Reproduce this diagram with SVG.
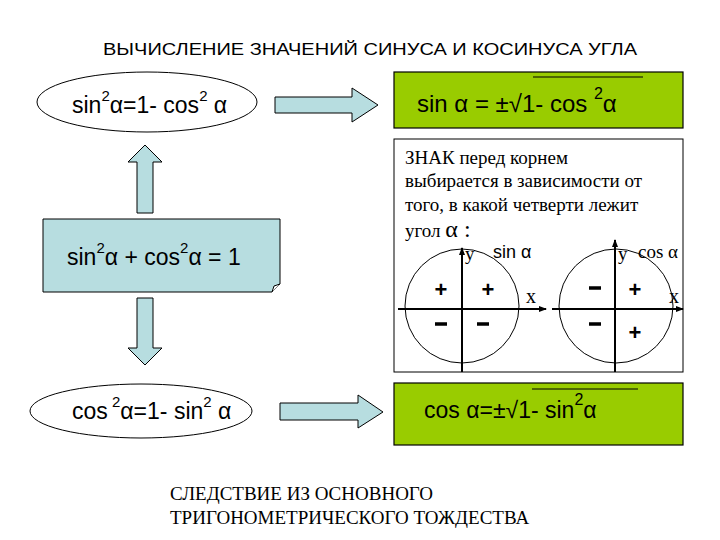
<svg xmlns="http://www.w3.org/2000/svg" width="720" height="540" viewBox="0 0 720 540" xml:space="preserve">
<style>
.s{font-family:"Liberation Sans",Arial,sans-serif;fill:#000}
.t{font-family:"Liberation Serif","Times New Roman",serif;fill:#000}
.blue{fill:#b7dde0;stroke:#000;stroke-width:1}
.green{fill:#99cc00;stroke:#000;stroke-width:1.2}
.ln{stroke:#000;fill:none}
</style>
<defs><marker id="ah" markerWidth="8" markerHeight="8" refX="7" refY="4" orient="auto" markerUnits="userSpaceOnUse"><path d="M0,1 L8,4 L0,7 Z" fill="#000"/></marker></defs>
<text class="s" x="103" y="55" font-size="16" textLength="534" lengthAdjust="spacingAndGlyphs">ВЫЧИСЛЕНИЕ ЗНАЧЕНИЙ СИНУСА И КОСИНУСА УГЛА</text>
<g id="connectors">
<path class="blue" d="M275,97 H352 V88 L378,105 L352,122 V113 H275 Z"/>
<path class="blue" d="M280,403 H358 V395 L383,412 L358,428 V420 H280 Z"/>
<path class="blue" d="M137,213 V162 H128 L145,145 L162,162 H153 V213 Z"/>
<path class="blue" d="M137,298 V348 H128 L145,365 L162,348 H153 V298 Z"/>
</g>
<g id="n-top">
<ellipse cx="147" cy="102" rx="110" ry="30" fill="#fff" stroke="#000"/>
<text class="s" x="72" y="113" font-size="23">sin<tspan dy="-12" font-size="15">2</tspan><tspan dy="12">α=1- cos</tspan><tspan dy="-12" font-size="15">2</tspan><tspan dy="12"> α</tspan></text>
</g>
<g id="n-main">
<path class="blue" d="M43,219 H280 V284 L272,292 H43 Z"/>
<path d="M272,292 L274,286 L280,284" fill="#fff" stroke="#000"/>
<text class="s" x="67" y="265" font-size="23">sin<tspan dy="-12" font-size="15">2</tspan><tspan dy="12">α + cos</tspan><tspan dy="-12" font-size="15">2</tspan><tspan dy="12">α = 1</tspan></text>
</g>
<g id="n-bot">
<ellipse cx="141" cy="411" rx="111" ry="27" fill="#fff" stroke="#000"/>
<text class="s" x="72" y="419" font-size="23">cos<tspan dy="-12" font-size="15"> 2</tspan><tspan dy="12">α=1- sin</tspan><tspan dy="-12" font-size="15">2</tspan><tspan dy="12"> α</tspan></text>
</g>
<g id="n-sin">
<rect class="green" x="394" y="72" width="289" height="56"/>
<text class="s" x="417" y="112" font-size="24">sin α = ±√1- cos <tspan dy="-13" font-size="16">2</tspan><tspan dy="13">α</tspan></text>
<path class="ln" d="M533,77 H643"/>
</g>
<g id="n-sign">
<rect x="394" y="139" width="289" height="233" fill="#fff" stroke="#000"/>
<text class="t" font-size="19"><tspan x="405" y="164">ЗНАК   перед корнем</tspan><tspan x="405" y="187">выбирается в зависимости от</tspan><tspan x="405" y="211">того,  в какой четверти лежит</tspan><tspan x="405" y="237">угол <tspan font-size="24">α :</tspan></tspan></text>
<circle cx="462" cy="306" r="57" fill="none" stroke="#000"/>
<path class="ln" d="M398,309 H546" marker-end="url(#ah)" stroke-width="2"/>
<path class="ln" d="M462,372 V248" marker-end="url(#ah)" stroke-width="2"/>
<text class="t" x="465" y="260" font-size="19">y</text>
<text class="s" x="493" y="258" font-size="18">sin α</text>
<text class="t" x="526" y="303" font-size="20">x</text>
<text class="s" x="441" y="297" font-size="22" font-weight="bold" text-anchor="middle">+</text>
<text class="s" x="488" y="297" font-size="22" font-weight="bold" text-anchor="middle">+</text>
<path d="M435,324 h12 M477,324 h12" stroke="#000" stroke-width="3.5"/>
<circle cx="616" cy="306" r="57" fill="none" stroke="#000"/>
<path class="ln" d="M552,309 H683" marker-end="url(#ah)" stroke-width="2"/>
<path class="ln" d="M615,372 V240" marker-end="url(#ah)" stroke-width="2"/>
<text class="t" x="618" y="260" font-size="19">y</text>
<text class="t" x="638" y="258" font-size="19">cos α</text>
<text class="t" x="669" y="303" font-size="20">x</text>
<path d="M589,288 h12 M589,324 h12" stroke="#000" stroke-width="3.5"/>
<text class="s" x="635" y="297" font-size="22" font-weight="bold" text-anchor="middle">+</text>
<text class="s" x="635" y="340" font-size="22" font-weight="bold" text-anchor="middle">+</text>
</g>
<g id="n-cos">
<rect class="green" x="394" y="383" width="289" height="62"/>
<text class="s" x="424" y="418" font-size="23">cos  α=±√1- sin<tspan dy="-13" font-size="16">2</tspan><tspan dy="13">α</tspan></text>
<path class="ln" d="M532,389 H638"/>
</g>
<text class="t" font-size="19"><tspan x="170" y="500">СЛЕДСТВИЕ ИЗ ОСНОВНОГО</tspan><tspan x="170" y="524">ТРИГОНОМЕТРИЧЕСКОГО ТОЖДЕСТВА</tspan></text>
</svg>
